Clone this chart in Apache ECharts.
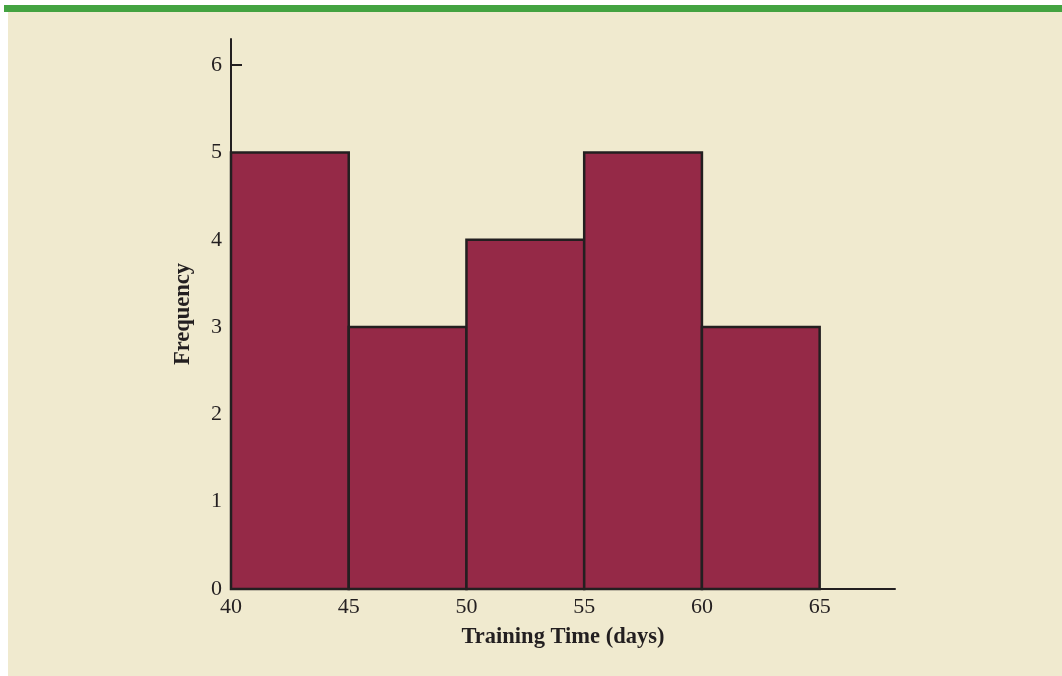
<!DOCTYPE html>
<html>
<head>
<meta charset="utf-8">
<script src="https://cdn.jsdelivr.net/npm/echarts@6/dist/echarts.min.js"></script>
<style>
html,body{margin:0;padding:0;background:#ffffff;}
#chart{width:1062px;height:676px;}
</style>
</head>
<body>
<div id="chart"></div>
<script>
// Histogram data
var binStarts = [40, 45, 50, 55, 60];
var binEnds = [45, 50, 55, 60, 65];
var frequencies = [5, 3, 4, 5, 3];
var xTickLabels = [40, 45, 50, 55, 60, 65];
var yTickLabels = [0, 1, 2, 3, 4, 5, 6];

var data = binStarts.map(function (s, i) { return [s, binEnds[i], frequencies[i]]; });

var chart = echarts.init(document.getElementById('chart'), null, {renderer: 'canvas'});
var font = '"Liberation Serif", "Times New Roman", serif';

chart.setOption({
  backgroundColor: '#ffffff',
  animation: false,
  graphic: [
    {type: 'rect', shape: {x: 8, y: 12, width: 1054, height: 664}, style: {fill: '#f0eacf'}, z: -10, silent: true},
    {type: 'rect', shape: {x: 4, y: 5, width: 1058, height: 7}, style: {fill: '#44a341'}, z: -10, silent: true}
  ],
  grid: {left: 231, right: 167, top: 39, bottom: 87, containLabel: false},
  xAxis: {
    type: 'value', min: 40, max: 68.2, interval: 5,
    name: 'Training Time (days)', nameLocation: 'middle', nameGap: 37,
    nameTextStyle: {fontFamily: font, fontWeight: 'bold', fontSize: 22.5, color: '#231f20'},
    axisLine: {show: true, onZero: false, lineStyle: {color: '#231f20', width: 2}},
    axisTick: {show: false},
    splitLine: {show: false},
    axisLabel: {customValues: xTickLabels, fontFamily: font, fontSize: 22, color: '#231f20', margin: 7}
  },
  yAxis: {
    type: 'value', min: 0, max: 6.3, interval: 1,
    name: 'Frequency', nameLocation: 'middle', nameGap: 36, nameRotate: 90,
    nameTextStyle: {fontFamily: font, fontWeight: 'bold', fontSize: 22.5, color: '#231f20'},
    axisLine: {show: true, onZero: false, lineStyle: {color: '#231f20', width: 2}},
    axisTick: {show: true, inside: true, length: 11, customValues: yTickLabels, lineStyle: {color: '#231f20', width: 2}},
    splitLine: {show: false},
    axisLabel: {customValues: yTickLabels, fontFamily: font, fontSize: 22, color: '#231f20', margin: 9}
  },
  series: [{
    type: 'custom',
    data: data,
    encode: {x: [0, 1], y: 2},
    renderItem: function (params, api) {
      var p0 = api.coord([api.value(0), api.value(2)]);
      var p1 = api.coord([api.value(1), 0]);
      return {
        type: 'rect',
        shape: {x: p0[0], y: p0[1], width: p1[0] - p0[0], height: p1[1] - p0[1]},
        style: {fill: '#952947', stroke: '#231f20', lineWidth: 2.5}
      };
    }
  }]
});
</script>
</body>
</html>
